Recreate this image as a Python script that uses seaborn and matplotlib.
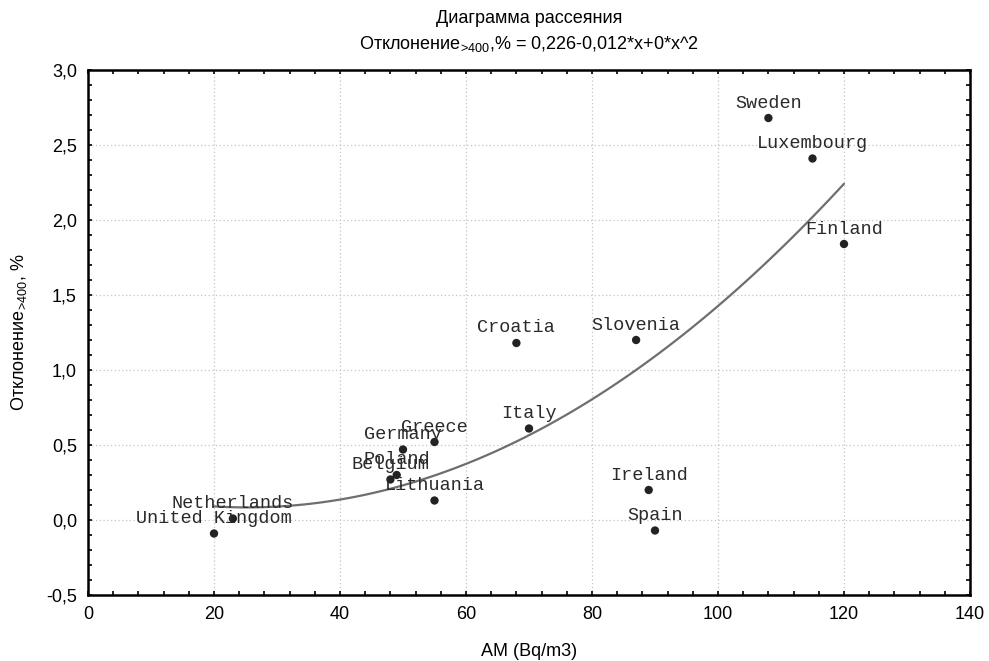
import numpy as np
import pandas as pd
import matplotlib
matplotlib.use("Agg")
import matplotlib.pyplot as plt
from matplotlib.ticker import AutoMinorLocator
import seaborn as sns

countries = ["United Kingdom", "Netherlands", "Belgium", "Poland", "Germany", "Greece",
             "Lithuania", "Croatia", "Italy", "Slovenia", "Ireland", "Spain",
             "Sweden", "Luxembourg", "Finland"]
am = [20, 23, 48, 49, 50, 55, 55, 68, 70, 87, 89, 90, 108, 115, 120]
deviation = [-0.09, 0.01, 0.27, 0.30, 0.47, 0.52, 0.13, 1.18, 0.61, 1.20, 0.20, -0.07, 2.68, 2.41, 1.84]

xticks = [0, 20, 40, 60, 80, 100, 120, 140]
yticks = [-0.5, 0.0, 0.5, 1.0, 1.5, 2.0, 2.5, 3.0]
ytick_labels = ["-0,5", "0,0", "0,5", "1,0", "1,5", "2,0", "2,5", "3,0"]

df = pd.DataFrame({"country": countries, "AM": am, "dev": deviation})

sns.set_theme(style="white")
plt.rcParams["font.family"] = ["Liberation Sans", "DejaVu Sans"]
plt.rcParams["mathtext.fontset"] = "custom"
plt.rcParams["mathtext.rm"] = "Liberation Sans"
plt.rcParams["mathtext.it"] = "Liberation Sans"

fig = plt.figure(figsize=(9.89, 6.61), dpi=100)
ax = fig.add_axes([88/989, 1-595/661, (970-88)/989, (595-70)/661])

sns.regplot(data=df, x="AM", y="dev", order=2, ci=None, scatter=False, ax=ax,
            line_kws=dict(color="#6e6e6e", lw=1.6))
sns.scatterplot(data=df, x="AM", y="dev", ax=ax, color="#222222", s=36,
                edgecolor="none", zorder=3)

for c, xv, yv in zip(countries, am, deviation):
    ax.annotate(c, (xv, yv), xytext=(0, 15), textcoords="offset pixels",
                ha="center", va="center", fontsize=13.3, family="Liberation Mono",
                color="#2a2a2a", zorder=4)

ax.set_xlim(0, 140)
ax.set_ylim(-0.5, 3.0)
ax.set_xticks(xticks)
ax.set_xticklabels([str(t) for t in xticks])
ax.set_yticks(yticks)
ax.set_yticklabels(ytick_labels)
ax.xaxis.set_minor_locator(AutoMinorLocator(5))
ax.yaxis.set_minor_locator(AutoMinorLocator(5))
ax.tick_params(which="both", direction="in", top=True, right=True, bottom=True, left=True,
               length=3, width=1.2, color="black", labelsize=13, labelcolor="black")
ax.tick_params(which="major", pad=8)
ax.grid(True, which="major", linestyle=(0, (1, 2)), color="#c4c4c4", lw=0.9)
for s in ax.spines.values():
    s.set_color("black")
    s.set_linewidth(1.8)

sub = "$_{\\!\\mathregular{>}\\!\\mathregular{400}}$"
ax.set_xlabel("AM (Bq/m3)", fontsize=13, labelpad=14, color="black")
ax.set_ylabel("Отклонение" + sub + ", %", fontsize=13, labelpad=12, color="black")
ax.set_title("Диаграмма рассеяния\nОтклонение" + sub + ",% = 0,226-0,012*x+0*x^2",
             fontsize=13, pad=15, color="black", linespacing=1.5)

fig.savefig("out.png", dpi=100, facecolor="white")
